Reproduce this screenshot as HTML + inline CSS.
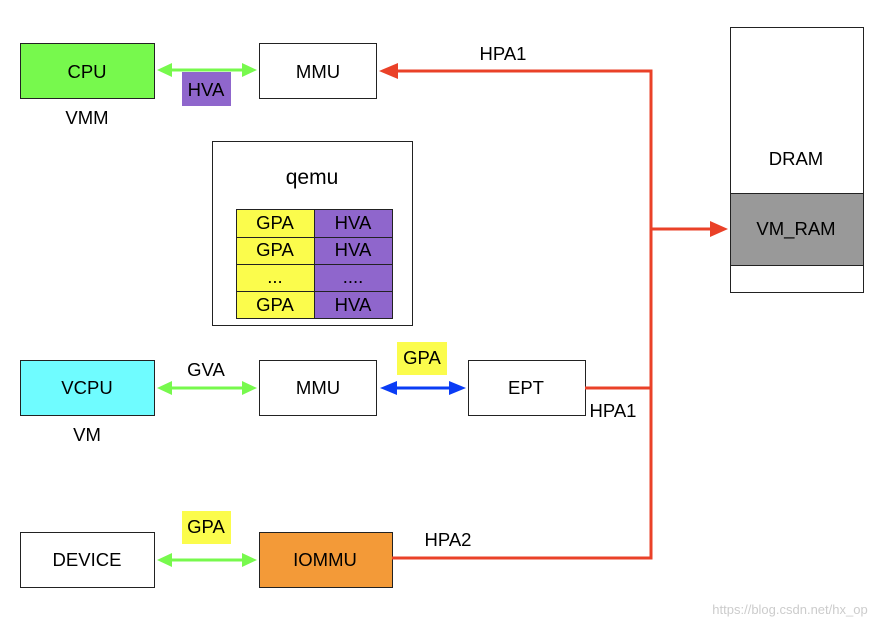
<!DOCTYPE html>
<html><head><meta charset="utf-8"><style>
body{margin:0;background:#fff;}
svg text{font-family:"Liberation Sans",Arial,sans-serif;font-size:18.5px;fill:#000;}
</style></head><body>
<svg width="892" height="628" viewBox="0 0 892 628" xmlns="http://www.w3.org/2000/svg">
<g stroke="#222" stroke-width="1">
<rect x="20.5" y="43.5" width="134" height="55" fill="#77f94d"/>
<rect x="259.5" y="43.5" width="117" height="55" fill="#fff"/>
<rect x="730.5" y="27.5" width="133" height="265" fill="#fff"/>
<rect x="730.5" y="193.5" width="133" height="72" fill="#999"/>
<rect x="212.5" y="141.5" width="200" height="184" fill="#fff"/>
<rect x="236.5" y="209.5" width="78" height="109" fill="#fbfc4c"/>
<rect x="314.5" y="209.5" width="78" height="109" fill="#8f66cc"/>
<line x1="236" y1="237.5" x2="392" y2="237.5"/>
<line x1="236" y1="264.5" x2="392" y2="264.5"/>
<line x1="236" y1="291.5" x2="392" y2="291.5"/>
<rect x="20.5" y="360.5" width="134" height="55" fill="#6ffcff"/>
<rect x="259.5" y="360.5" width="117" height="55" fill="#fff"/>
<rect x="468.5" y="360.5" width="117" height="55" fill="#fff"/>
<rect x="20.5" y="532.5" width="134" height="55" fill="#fff"/>
<rect x="259.5" y="532.5" width="133" height="55" fill="#f39a38"/>
</g>
<rect x="182" y="72" width="49" height="34" fill="#8f66cc"/>
<rect x="397" y="342" width="50" height="33" fill="#fbfc4c"/>
<rect x="182" y="511" width="49" height="33" fill="#fbfc4c"/>
<g stroke="#77f94d" stroke-width="3" fill="none">
<line x1="167" y1="70" x2="247" y2="70"/>
<line x1="167" y1="388" x2="247" y2="388"/>
<line x1="167" y1="560" x2="247" y2="560"/>
</g>
<g fill="#77f94d">
<path d="M157,70 L172,63 L172,77Z"/><path d="M257,70 L242,63 L242,77Z"/>
<path d="M157,388 L172,381 L172,395Z"/><path d="M257,388 L242,381 L242,395Z"/>
<path d="M157,560 L172,553 L172,567Z"/><path d="M257,560 L242,553 L242,567Z"/>
</g>
<line x1="390" y1="388" x2="456" y2="388" stroke="#0a3cf5" stroke-width="3"/>
<path d="M380,388 L397,381 L397,395Z M466,388 L449,381 L449,395Z" fill="#0a3cf5"/>
<g stroke="#ea4128" stroke-width="3" fill="none">
<polyline points="393,71 651,71 651,558 392,558"/>
<line x1="585" y1="388" x2="651" y2="388"/>
<line x1="651" y1="229" x2="714" y2="229"/>
</g>
<path d="M379,71 L398,63 L398,79Z" fill="#ea4128"/>
<path d="M728,229 L710,221 L710,237Z" fill="#ea4128"/>
<g text-anchor="middle">
<text x="87" y="78">CPU</text>
<text x="87" y="124">VMM</text>
<text x="318" y="78">MMU</text>
<text x="206" y="96">HVA</text>
<text x="503" y="60">HPA1</text>
<text x="796" y="165">DRAM</text>
<text x="796" y="235">VM_RAM</text>
<text x="312" y="184" style="font-size:21px">qemu</text>
<text x="275" y="229">GPA</text><text x="353" y="229">HVA</text>
<text x="275" y="256">GPA</text><text x="353" y="256">HVA</text>
<text x="275" y="283">...</text><text x="353" y="283">....</text>
<text x="275" y="311">GPA</text><text x="353" y="311">HVA</text>
<text x="87" y="394">VCPU</text>
<text x="87" y="441">VM</text>
<text x="206" y="376">GVA</text>
<text x="318" y="394">MMU</text>
<text x="422" y="364">GPA</text>
<text x="526" y="394">EPT</text>
<text x="613" y="417">HPA1</text>
<text x="87" y="566">DEVICE</text>
<text x="206" y="533">GPA</text>
<text x="325" y="566">IOMMU</text>
<text x="448" y="546">HPA2</text>
<text x="790" y="614" style="font-size:13px;fill:#ccc">https://blog.csdn.net/hx_op</text>
</g>
</svg>
</body></html>
